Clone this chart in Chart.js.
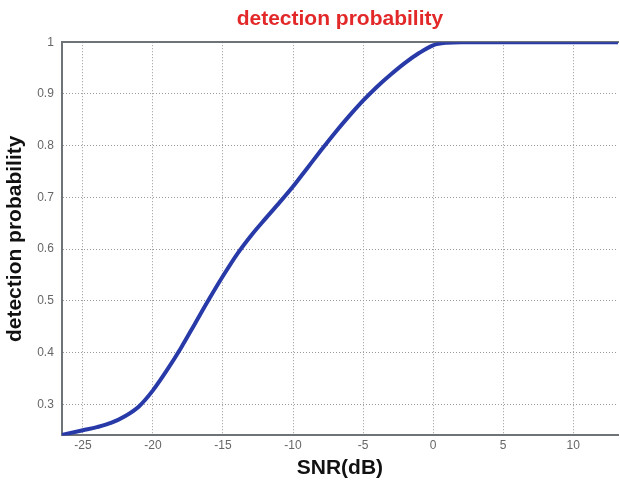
<!DOCTYPE html>
<html>
<head>
  <meta charset="utf-8">
  <title>detection probability</title>
  <script src="https://cdn.jsdelivr.net/npm/chart.js@4.4.1/dist/chart.umd.min.js"></script>
  <style>
    html, body { margin: 0; padding: 0; background: #fff; }
    #wrap { width: 620px; height: 482px; }
  </style>
</head>
<body>
  <div id="wrap">
    <canvas id="pdChart" width="620" height="482"></canvas>
  </div>

  <script>
    // SNR in dB
    const snr = [-26.5, -25, -24, -23, -22, -21, -20, -19, -18, -17, -16, -15, -14, -13,
                 -12, -11, -10, -9, -8, -7, -6, -5, -4, -3, -2, -1, 0, 1, 2, 3,
                 4, 5, 6, 7, 8, 9, 10, 11, 12, 13.2];
    // detection probability at each SNR
    const pd = [0.241, 0.250, 0.256, 0.264, 0.277, 0.296, 0.327, 0.366, 0.409, 0.456,
                0.503, 0.548, 0.590, 0.626, 0.658, 0.689, 0.721, 0.756, 0.791, 0.825,
                0.857, 0.887, 0.914, 0.938, 0.960, 0.979, 0.994, 0.999, 1.0, 1.0,
                1.0, 1.0, 1.0, 1.0, 1.0, 1.0, 1.0, 1.0, 1.0, 1.0];

    const xTicks = [-25, -20, -15, -10, -5, 0, 5, 10];
    const yTicks = [0.3, 0.4, 0.5, 0.6, 0.7, 0.8, 0.9, 1];

    const points = snr.map((x, i) => ({ x: x, y: pd[i] }));

    const tickFont = { family: 'Liberation Sans', size: 12 };
    const titleFont = { family: 'Liberation Sans', size: 21, weight: 'bold' };

    const config = {
      type: 'line',
      data: {
        datasets: [{
          label: 'Pd',
          data: points,
          borderColor: 'rgb(40, 58, 168)',
          borderWidth: 4,
          pointRadius: 0,
          cubicInterpolationMode: 'monotone',
          fill: false
        }]
      },
      options: {
        responsive: false,
        animation: false,
        layout: { padding: { left: 0, right: 2, bottom: 0 } },
        plugins: {
          legend: { display: false },
          tooltip: { enabled: false },
          title: {
            display: true,
            text: 'detection probability',
            color: 'rgb(226, 40, 40)',
            fullSize: false,
            font: { family: 'Liberation Sans', size: 21, weight: 'bold' },
            padding: { top: 7, bottom: 10 }
          }
        },
        scales: {
          x: {
            type: 'linear',
            min: -26.5,
            max: 13.2,
            afterBuildTicks: scale => { scale.ticks = xTicks.map(v => ({ value: v })); },
            ticks: { color: '#666', font: tickFont, padding: 3, maxRotation: 0 },
            grid: { color: '#9a9a9a', lineWidth: 1, drawTicks: false },
            border: { display: true, color: '#6e7378', width: 2, dash: [1, 2] },
            title: { display: true, text: 'SNR(dB)', color: '#111', font: titleFont, padding: { top: 0, bottom: 1 } }
          },
          xTop: {
            type: 'linear',
            position: 'top',
            min: -26.5,
            max: 13.2,
            ticks: { display: false },
            grid: { display: false, drawTicks: false },
            border: { display: true, color: '#6e7378', width: 2 }
          },
          y: {
            min: 0.24,
            max: 1,
            afterBuildTicks: scale => { scale.ticks = yTicks.map(v => ({ value: v })); },
            ticks: {
              color: '#666',
              font: tickFont,
              padding: 8,
              callback: v => String(Math.round(v * 10) / 10)
            },
            grid: { color: '#9a9a9a', lineWidth: 1, drawTicks: false },
            border: { display: true, color: '#6e7378', width: 2, dash: [1, 2] },
            title: { display: true, text: 'detection probability', color: '#111', font: titleFont, padding: { top: 3, bottom: 1 } }
          }
        }
      }
    };

    new Chart(document.getElementById('pdChart'), config);
  </script>
</body>
</html>
